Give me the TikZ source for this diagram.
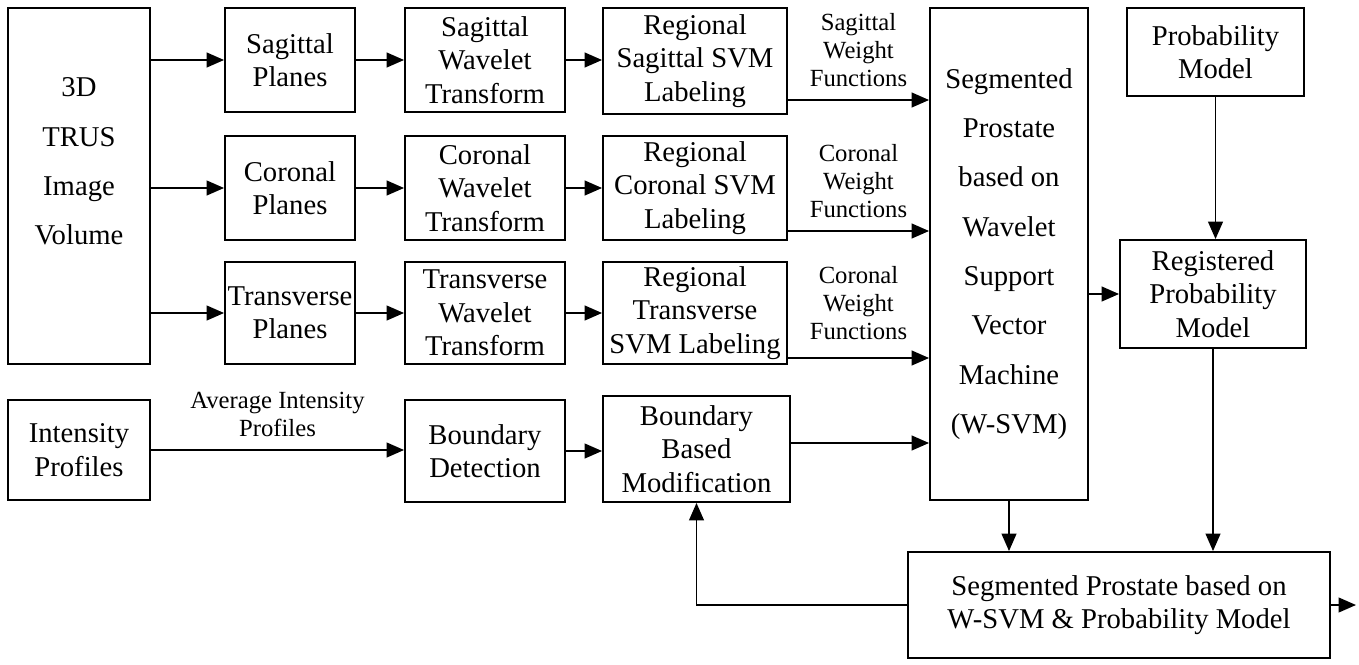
\documentclass[tikz,border=0pt]{standalone}
\usepackage{fontspec}
\setmainfont{Liberation Serif}
\usepackage{tikz}
\usetikzlibrary{arrows.meta, positioning, calc}

\tikzset{
  blk/.style={draw, line width=1.4pt, align=center, inner sep=0pt, font=\fontsize{21.5}{25}\selectfont},
  tall/.style={font=\fontsize{21.5}{37}\selectfont},
  lbl/.style={align=center, inner sep=9pt, font=\fontsize{18.5}{21}\selectfont},
  arr/.style={line width=1.4pt, -{Triangle[length=13pt,width=11pt]}},
}

\begin{document}
\begin{tikzpicture}[x=0.75pt,y=0.75pt,yscale=-1,xscale=1]
		\useasboundingbox (0,0) rectangle (1359,664);

		%Shape: Rectangle [vol]
		\node[blk, tall, minimum width=106.5pt, minimum height=267pt] (vol) at (79,186) {3D\\TRUS\\Image\\Volume\\ \mbox{}};
		%Shape: Rectangle [sagittal row]
		\node[blk, minimum width=97.5pt, minimum height=78pt] (sagp) at (290,60) {Sagittal\\Planes};
		\node[blk, minimum width=120pt, minimum height=78pt] (sagw) at (485,60) {Sagittal\\Wavelet\\Transform};
		\node[blk, minimum width=138pt, minimum height=80pt] (sags) at (695,61) {Regional\\Sagittal SVM\\Labeling};
		%Shape: Rectangle [coronal row]
		\node[blk, minimum width=97.5pt, minimum height=78pt] (corp) at (290,188) {Coronal\\Planes};
		\node[blk, minimum width=120pt, minimum height=78pt] (corw) at (485,188) {Coronal\\Wavelet\\Transform};
		\node[blk, minimum width=138pt, minimum height=78pt] (cors) at (695,188) {Regional\\Coronal SVM\\Labeling};
		%Shape: Rectangle [transverse row]
		\node[blk, minimum width=97.5pt, minimum height=76.5pt] (trap) at (290,313) {Transverse\\Planes};
		\node[blk, minimum width=120pt, minimum height=76.5pt] (traw) at (485,313) {Transverse\\Wavelet\\Transform};
		\node[blk, minimum width=138pt, minimum height=76.5pt] (tras) at (695,313) {Regional\\Transverse\\SVM Labeling};
		%Shape: Rectangle [boundary row]
		\node[blk, minimum width=106.5pt, minimum height=75pt] (intp) at (79,450) {Intensity\\Profiles};
		\node[blk, minimum width=120pt, minimum height=76.5pt] (bdet) at (485,451) {Boundary\\Detection};
		\node[blk, minimum width=140.25pt, minimum height=79.5pt] (bmod) at (696.5,449) {Boundary\\Based\\Modification};
		%Shape: Rectangle [right part]
		\node[blk, tall, minimum width=118.5pt, minimum height=369pt] (wsvm) at (1009,254) {Segmented\\Prostate\\based on\\Wavelet\\Support\\Vector\\Machine\\(W-SVM)};
		\node[blk, minimum width=132.75pt, minimum height=66pt] (prob) at (1215.5,52) {Probability\\Model};
		\node[blk, minimum width=139.5pt, minimum height=81pt] (reg) at (1213,294) {Registered\\Probability\\Model};
		\node[blk, minimum width=316.5pt, minimum height=79.5pt] (final) at (1119,605) {Segmented Prostate based on\\W-SVM \& Probability Model};
		\coordinate (out) at (1356,605);

		%Straight Lines [volume to planes]
		\draw[arr] (vol.east |- sagp) -- (sagp);
		\draw[arr] (vol.east |- corp) -- (corp);
		\draw[arr] (vol.east |- trap) -- (trap);
		%Straight Lines [planes to wavelet to labeling]
		\draw[arr] (sagp) -- (sagw);
		\draw[arr] (sagw) -- (sagw -| sags.west);
		\draw[arr] (corp) -- (corw);
		\draw[arr] (corw) -- (cors);
		\draw[arr] (trap) -- (traw);
		\draw[arr] (traw) -- (tras);
		%Straight Lines [weight functions]
		\draw[arr] (sags.east |- 0,100) -- (wsvm.west |- 0,100) node[lbl, midway, above] {Sagittal\\Weight\\Functions};
		\draw[arr] (cors.east |- 0,231) -- (wsvm.west |- 0,231) node[lbl, midway, above] {Coronal\\Weight\\Functions};
		\draw[arr] (tras.east |- 0,358) -- (wsvm.west |- 0,358) node[lbl, midway, above, yshift=4pt] {Coronal\\Weight\\Functions};
		%Straight Lines [boundary row]
		\draw[arr] (intp) -- (intp -| bdet.west) node[lbl, midway, above] {Average Intensity\\Profiles};
		\draw[arr] (bdet) -- (bdet -| bmod.west);
		\draw[arr] (bmod.east |- 0,443) -- (wsvm.west |- 0,443);
		%Straight Lines [right part]
		\draw[arr] (wsvm.east |- reg) -- (reg);
		\draw[arr] (prob) -- (prob |- reg.north);
		\draw[arr] (wsvm.south) -- (wsvm.south |- final.north);
		\draw[arr] (reg.south) -- (reg.south |- final.north);
		\draw[arr] (final) -- (out);
		\draw[arr] (final.west) -| (bmod.south);

\end{tikzpicture}
\end{document}
